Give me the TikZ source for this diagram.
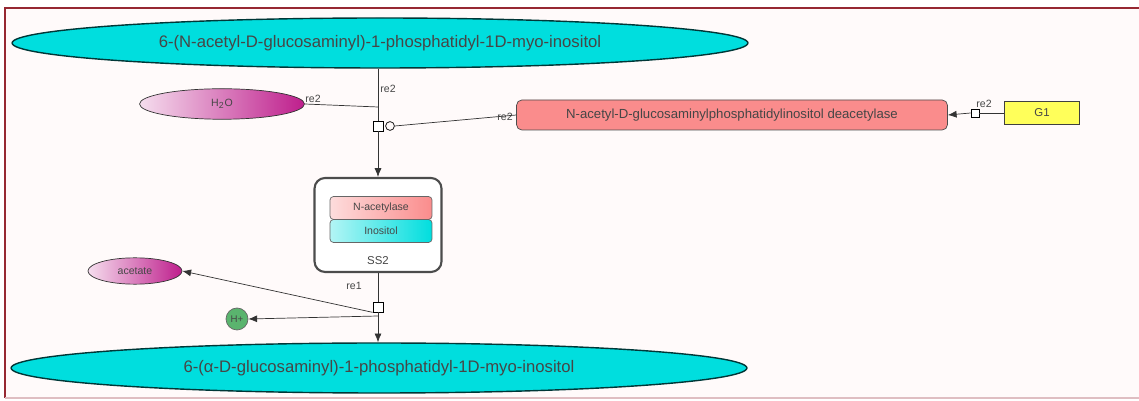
\documentclass[tikz,border=0pt]{standalone}
\usepackage{fontspec}
\setmainfont{Liberation Sans}
\usetikzlibrary{shapes.geometric,arrows.meta}

\definecolor{framered}{RGB}{150,40,50}
\definecolor{speciescyan}{RGB}{0,222,222}
\definecolor{enzymered}{RGB}{250,140,140}
\definecolor{genefill}{RGB}{255,255,90}
\definecolor{ionpurple}{RGB}{190,30,140}
\definecolor{protongreen}{RGB}{90,180,110}
\definecolor{txtgray}{RGB}{70,70,70}

\begin{document}
\begin{tikzpicture}[x=0.02cm,y=-0.02cm]

    \tikzset{
      bigspecies/.style={
        ellipse,
        draw=black!75!speciescyan,
        thick,
        fill=speciescyan,
        minimum width=14.72cm,
        minimum height=1cm,
        font=\fontsize{9.5}{10}\selectfont,
        text=txtgray,
      },
      smallspecies/.style={
        ellipse,
        draw=black!80,
        left color=white!85!ionpurple,
        right color=ionpurple,
        font=\fontsize{6}{7}\selectfont,
        text=txtgray,
      },
      process/.style={
        draw,
        fill=white,
        inner sep=0pt,
        minimum size=0.2cm,
      },
      tag/.style={
        font=\fontsize{6}{7}\selectfont,
        text=txtgray,
        inner sep=1pt,
      },
      subunit/.style={
        draw=black!60,
        rounded corners=2pt,
        minimum width=2.04cm,
        minimum height=0.46cm,
        font=\fontsize{6}{7}\selectfont,
        text=txtgray,
      },
      link/.style={
        black!80,
        thin,
      },
      arr/.style={
        link,
        -{Latex[length=5pt,width=4pt]},
      },
    }
    \useasboundingbox (0,0) rectangle (1139,401);
    \clip (0,0) rectangle (1139,401);
    \fill[white!98!red] (5,8) rectangle (1160,398);
    \draw[framered, line width=1pt] (5,398) -- (5,8) -- (1160,8);
    \draw[framered!30, line width=0.8pt] (5,398) -- (1160,398);

    % species
    \node[bigspecies] (glcnacpi) at (380,43) {6-(N-acetyl-D-glucosaminyl)-1-phosphatidyl-1D-myo-inositol};
    \node[bigspecies] (glcnpi) at (379,368) {6-(α-D-glucosaminyl)-1-phosphatidyl-1D-myo-inositol};
    \node[smallspecies, minimum width=3.3cm, minimum height=0.5cm] (water) at (222,104) {H\textsubscript{2}O};
    \node[smallspecies, minimum width=1.88cm, minimum height=0.44cm] (acetate) at (135,271) {acetate};
    \node[circle, draw=black!60, fill=protongreen, minimum size=0.44cm, inner sep=0pt,
      font=\fontsize{5.5}{6}\selectfont, text=txtgray] (hplus) at (237,319) {H+};

    % enzyme and gene
    \node[draw=black!70, fill=enzymered, rounded corners=3pt, minimum width=8.62cm,
      minimum height=0.6cm, font=\fontsize{7.5}{8}\selectfont, text=txtgray]
      (deacetylase) at (732,115) {N-acetyl-D-glucosaminylphosphatidylinositol deacetylase};
    \node[draw=black!75, thick, fill=genefill, minimum width=1.5cm, minimum height=0.46cm,
      font=\fontsize{6.5}{7}\selectfont, text=txtgray] (gone) at (1042,113) {G1};

    % complex
    \node[draw=black!70, very thick, fill=white, rounded corners=6pt, minimum width=2.54cm,
      minimum height=1.88cm] (ss2) at (378,225) {};
    \node[subunit, left color=white!70!enzymered, right color=enzymered] (nacetylase) at (381,208) {N-acetylase};
    \node[subunit, left color=white!70!speciescyan, right color=speciescyan] (inositol) at (381,231) {Inositol};
    \node[tag, font=\fontsize{6.5}{7}\selectfont] (ss2name) at (378,261) {SS2};

    % reactions
    \node[process] (re2) at (378,126) {};
    \node[circle, draw, inner sep=0pt, minimum size=5pt] (cat) at (390,126) {};
    \node[process, minimum size=0.16cm] (re3) at (975,113) {};
    \node[process] (re1) at (378,307) {};
    \coordinate (join) at (378,107);
    \coordinate (split) at (378,316);

    \draw[link] (glcnacpi.south -| re2) -- (re2.north);
    \draw[link] (water.east) -- (join);
    \draw[arr] (re2.south) -- (ss2.north);
    \draw[link] (deacetylase.west) -- (cat.east);
    \draw[link] (gone.west) -- (re3.east);
    \draw[arr] (re3.west) -- (deacetylase.east);
    \draw[link] (ss2.south) -- (re1.north);
    \draw[link] (re1.south) -- (split);
    \draw[arr] (split) -- (glcnpi.north -| split);
    \draw[arr] (split) -- (hplus.east);
    \draw[arr] (re1.south west) -- (acetate.east);

    % labels
    \node[tag] (lwater) at (313,99) {re2};
    \node[tag] (ltop) at (388,89) {re2};
    \node[tag] (lenz) at (505,117) {re2};
    \node[tag] (lgene) at (984,104) {re2};
    \node[tag] (lss2) at (354,286) {re1};

\end{tikzpicture}
\end{document}
